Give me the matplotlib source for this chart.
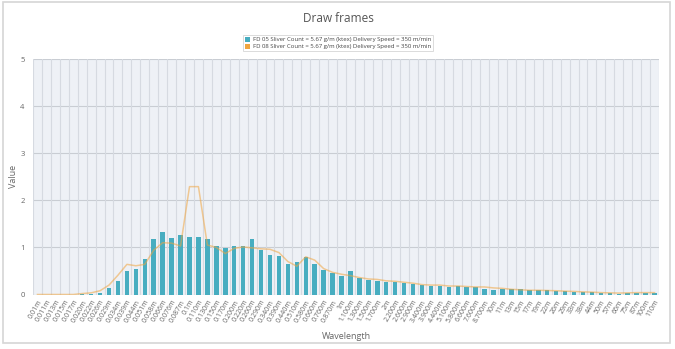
import numpy as np
import matplotlib.pyplot as plt
from matplotlib.patches import Rectangle, Patch

plt.rcParams['font.family'] = ['Open Sans', 'DejaVu Sans']

# Categorias de longitud de onda
wavelengths = [
    "0.01m", "0.011m", "0.013m", "0.015m", "0.017m", "0.020m", "0.022m", "0.026m",
    "0.029m", "0.034m", "0.039m", "0.044m", "0.051m", "0.058m", "0.066m", "0.076m",
    "0.087m", "0.1m", "0.110m", "0.130m", "0.150m", "0.170m", "0.200m", "0.220m",
    "0.260m", "0.290m", "0.340m", "0.390m", "0.440m", "0.510m", "0.580m", "0.660m",
    "0.760m", "0.870m", "1m", "1.100m", "1.300m", "1.500m", "1.700m", "2m",
    "2.200m", "2.600m", "2.900m", "3.400m", "3.900m", "4.400m", "5.100m", "5.800m",
    "6.600m", "7.600m", "8.700m", "10m", "11m", "13m", "15m", "17m", "19m", "22m",
    "26m", "29m", "33m", "38m", "44m", "50m", "57m", "66m", "75m", "87m", "100m", "110m",
]

# FD 05 (barras)
fd05 = [
    0, 0, 0, 0, 0, 0.02, 0.02, 0.04, 0.13, 0.29, 0.50, 0.55, 0.76, 1.18, 1.33, 1.21,
    1.27, 1.22, 1.22, 1.18, 1.04, 0.99, 1.02, 1.03, 1.17, 0.94, 0.83, 0.82, 0.65, 0.70,
    0.80, 0.65, 0.52, 0.45, 0.40, 0.50, 0.34, 0.30, 0.28, 0.26, 0.255, 0.25, 0.23, 0.21,
    0.18, 0.17, 0.15, 0.18, 0.15, 0.15, 0.12, 0.10, 0.12, 0.11, 0.11, 0.085, 0.085,
    0.085, 0.08, 0.065, 0.06, 0.05, 0.05, 0.035, 0.035, 0.02, 0.03, 0.035, 0.035, 0.035,
]

# FD 08 (linea)
fd08 = [
    0, 0, 0, 0, 0, 0.02, 0.035, 0.08, 0.20, 0.41, 0.64, 0.61, 0.64, 0.94, 1.10, 1.09,
    1.03, 2.29, 2.29, 1.05, 1.00, 0.87, 0.98, 1.01, 0.99, 0.97, 0.96, 0.89, 0.70, 0.60,
    0.80, 0.73, 0.55, 0.47, 0.43, 0.40, 0.36, 0.33, 0.32, 0.29, 0.28, 0.26, 0.24, 0.21,
    0.20, 0.20, 0.18, 0.18, 0.17, 0.16, 0.16, 0.14, 0.13, 0.11, 0.10, 0.09, 0.09,
    0.085, 0.08, 0.07, 0.065, 0.055, 0.05, 0.04, 0.035, 0.03, 0.035, 0.04, 0.04, 0.04,
]

series_names = [
    'FD 05 Sliver Count = 5.67 g/m (ktex) Delivery Speed = 350 m/min',
    'FD 08 Sliver Count = 5.67 g/m (ktex) Delivery Speed = 350 m/min',
]
yticks = [0, 1, 2, 3, 4, 5]

teal = '#47adc0'
orange = '#f0a540'
texto = '#666666'

fig = plt.figure(figsize=(6.75, 3.49), dpi=100)
fig.patch.set_facecolor('white')

# marco exterior del grafico
fig.patches.append(Rectangle((3 / 675, 6 / 349), 667 / 675, 341 / 349,
                             transform=fig.transFigure, fill=False,
                             edgecolor='#d6d6d6', linewidth=1.2))

ax = fig.add_axes([33 / 675, 1 - 294.5 / 349, 626 / 675, 235.5 / 349])
ax.set_facecolor('#eef1f6')

x = np.arange(len(wavelengths))
ax.bar(x, fd05, width=0.5, color=teal, zorder=3)
ax.plot(x, fd08, color=orange, alpha=0.55, linewidth=1.1, zorder=4,
        solid_joinstyle='round')

ax.set_xlim(-0.5, len(wavelengths) - 0.5)
ax.set_ylim(0, 5)

# lineas verticales entre categorias
for b in np.arange(-0.5, len(wavelengths), 1.0):
    ax.axvline(b, color='#d6dae1', linewidth=0.8, zorder=1)
ax.set_yticks(yticks)
ax.yaxis.grid(True, color='#c9cdd3', linewidth=0.8, zorder=2)
ax.set_axisbelow(True)

ax.set_xticks(x)
ax.set_xticklabels(wavelengths, rotation=60, ha='right', rotation_mode='anchor',
                   fontsize=5, color=texto)
ax.tick_params(axis='x', length=0, pad=3)
ax.tick_params(axis='y', length=0, labelsize=5.5, labelcolor=texto, pad=6)

for s in ax.spines.values():
    s.set_visible(False)

ax.set_xlabel('Wavelength', fontsize=6.5, color=texto, labelpad=6)
fig.text(13 / 675, 1 - 176 / 349, 'Value', rotation=90, ha='center', va='center',
         fontsize=6.5, color=texto)

fig.text(338 / 675, 1 - 18 / 349, 'Draw frames', ha='center', va='center',
         fontsize=8.5, color='#555555')

handles = [Patch(facecolor=teal, edgecolor='none'),
           Patch(facecolor=orange, edgecolor='none')]
leg = fig.legend(handles, series_names, loc='center',
                 bbox_to_anchor=(338 / 675, 1 - 43 / 349), fontsize=4.3,
                 frameon=True, fancybox=False, edgecolor='#cccccc',
                 handlelength=0.9, handleheight=0.9, handletextpad=0.5,
                 borderpad=0.35, labelspacing=0.25, labelcolor='#444444')
leg.get_frame().set_linewidth(0.6)

fig.savefig('out.png', dpi=100)
